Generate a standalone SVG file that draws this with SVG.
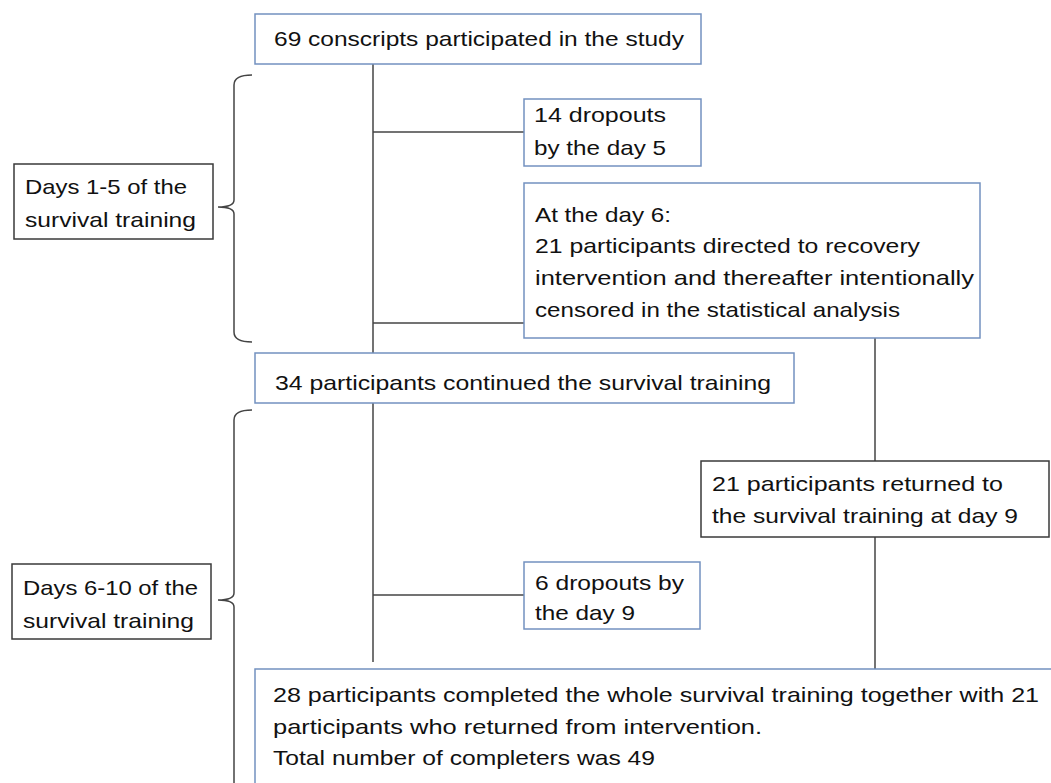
<svg xmlns="http://www.w3.org/2000/svg" width="1051" height="783" viewBox="0 0 1051 783">
<style>
.bb{fill:#fff;stroke:#7391c0;stroke-width:1.5}
.db{fill:#fff;stroke:#3a3a3a;stroke-width:1.5}
.t{font-family:"Liberation Sans",Arial,sans-serif;font-size:21px;fill:#111}
.ln{fill:none;stroke:#444;stroke-width:1.5}
</style>
<rect width="1051" height="783" fill="#fff"/>
<g id="connectors">
<line class="ln" x1="373" y1="64" x2="373" y2="353"/>
<line class="ln" x1="373" y1="132" x2="524" y2="132"/>
<line class="ln" x1="373" y1="323" x2="524" y2="323"/>
<line class="ln" x1="373" y1="403" x2="373" y2="662"/>
<line class="ln" x1="373" y1="595" x2="524" y2="595"/>
<line class="ln" x1="875" y1="338" x2="875" y2="461"/>
<line class="ln" x1="875" y1="537" x2="875" y2="670"/>
<path class="ln" d="M252 75 Q234 75 234 85 L234 200 Q234 207 218 207 Q234 207 234 214 L234 332 Q234 342 252 342"/>
<path class="ln" d="M252 410 Q234 410 234 420 L234 593 Q234 600 218 600 Q234 600 234 607 L234 783"/>
</g>
<g id="n1">
<rect class="bb" x="255" y="14" width="446" height="50"/>
<text class="t" x="274" y="46" textLength="410" lengthAdjust="spacingAndGlyphs">69 conscripts participated in the study</text>
</g>
<g id="n2">
<rect class="bb" x="524" y="99" width="177" height="67"/>
<text class="t" x="534" y="122" textLength="132" lengthAdjust="spacingAndGlyphs">14 dropouts</text>
<text class="t" x="534" y="155" textLength="132" lengthAdjust="spacingAndGlyphs">by the day 5</text>
</g>
<g id="n3">
<rect class="bb" x="524" y="183" width="456" height="155"/>
<text class="t" x="535" y="222" textLength="136" lengthAdjust="spacingAndGlyphs">At the day 6:</text>
<text class="t" x="535" y="253" textLength="385" lengthAdjust="spacingAndGlyphs">21 participants directed to recovery</text>
<text class="t" x="535" y="285" textLength="439" lengthAdjust="spacingAndGlyphs">intervention and thereafter intentionally</text>
<text class="t" x="535" y="317" textLength="365" lengthAdjust="spacingAndGlyphs">censored in the statistical analysis</text>
</g>
<g id="n4">
<rect class="bb" x="255" y="353" width="539" height="50"/>
<text class="t" x="275" y="390" textLength="496" lengthAdjust="spacingAndGlyphs">34 participants continued the survival training</text>
</g>
<g id="n5">
<rect class="db" x="701" y="461" width="348" height="76"/>
<text class="t" x="712" y="491" textLength="291" lengthAdjust="spacingAndGlyphs">21 participants returned to</text>
<text class="t" x="712" y="523" textLength="306" lengthAdjust="spacingAndGlyphs">the survival training at day 9</text>
</g>
<g id="n6">
<rect class="bb" x="524" y="562" width="176" height="67"/>
<text class="t" x="535" y="590" textLength="149" lengthAdjust="spacingAndGlyphs">6 dropouts by</text>
<text class="t" x="535" y="620" textLength="100" lengthAdjust="spacingAndGlyphs">the day 9</text>
</g>
<g id="n7">
<rect class="bb" x="255" y="669" width="810" height="130"/>
<text class="t" x="273" y="702" textLength="766" lengthAdjust="spacingAndGlyphs">28 participants completed the whole survival training together with 21</text>
<text class="t" x="273" y="734" textLength="489" lengthAdjust="spacingAndGlyphs">participants who returned from intervention.</text>
<text class="t" x="273" y="765" textLength="382" lengthAdjust="spacingAndGlyphs">Total number of completers was 49</text>
</g>
<g id="lab1">
<rect class="db" x="14" y="164" width="199" height="75"/>
<text class="t" x="25" y="194" textLength="162" lengthAdjust="spacingAndGlyphs">Days 1-5 of the</text>
<text class="t" x="25" y="227" textLength="171" lengthAdjust="spacingAndGlyphs">survival training</text>
</g>
<g id="lab2">
<rect class="db" x="12" y="564" width="199" height="75"/>
<text class="t" x="23" y="595" textLength="175" lengthAdjust="spacingAndGlyphs">Days 6-10 of the</text>
<text class="t" x="23" y="628" textLength="171" lengthAdjust="spacingAndGlyphs">survival training</text>
</g>
</svg>
